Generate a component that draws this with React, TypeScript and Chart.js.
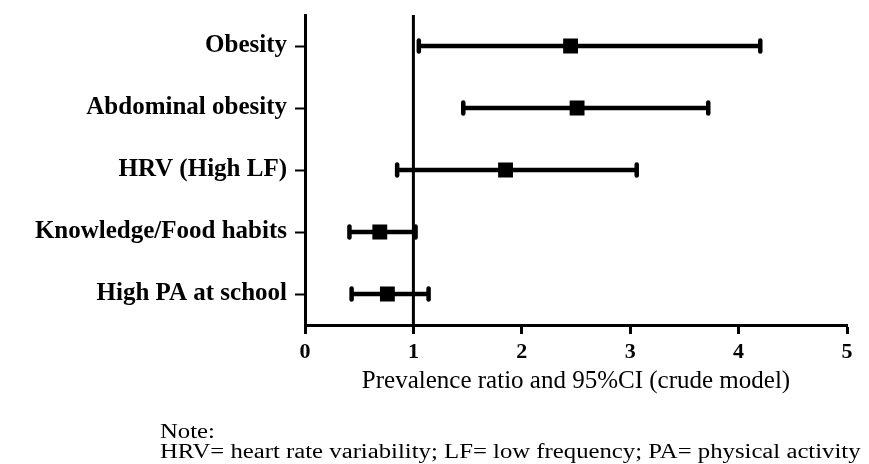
import React, { useEffect, useRef } from "react";
import { Chart, registerables } from "chart.js";

Chart.register(...registerables);

// ---- data ----
const categories = [
  "Obesity",
  "Abdominal obesity",
  "HRV (High LF)",
  "Knowledge/Food habits",
  "High PA at school",
];
const estimates = [2.45, 2.51, 1.85, 0.69, 0.76];
const lowerCI = [1.05, 1.46, 0.85, 0.41, 0.43];
const upperCI = [4.2, 3.72, 3.06, 1.02, 1.14];
const xMin = 0;
const xMax = 5;
const xStep = 1;
const referenceValue = 1;
const xAxisTitle = "Prevalence ratio and 95%CI (crude model)";
const noteLines = [
  "Note:",
  "HRV= heart rate variability; LF= low frequency; PA= physical activity",
];

const FONT = "'Liberation Serif', 'Times New Roman', serif";

const errorBarPlugin = {
  id: "errorBars",
  beforeDatasetsDraw(chart: any) {
    const { ctx, chartArea, scales } = chart;
    const x = scales.x;
    const y = scales.y;
    ctx.save();
    ctx.strokeStyle = "#000";
    // reference line
    const rx = x.getPixelForValue(referenceValue);
    ctx.lineWidth = 3;
    ctx.lineCap = "butt";
    ctx.beginPath();
    ctx.moveTo(rx, chartArea.top);
    ctx.lineTo(rx, chartArea.bottom);
    ctx.stroke();
    categories.forEach((_, i) => {
      const py = y.getPixelForValue(i);
      const x1 = x.getPixelForValue(lowerCI[i]);
      const x2 = x.getPixelForValue(upperCI[i]);
      ctx.lineWidth = 4.5;
      ctx.lineCap = "butt";
      ctx.beginPath();
      ctx.moveTo(x1, py);
      ctx.lineTo(x2, py);
      ctx.stroke();
      ctx.lineWidth = 4.5;
      ctx.lineCap = "round";
      [x1, x2].forEach((cx) => {
        ctx.beginPath();
        ctx.moveTo(cx, py - 5.5);
        ctx.lineTo(cx, py + 5.5);
        ctx.stroke();
      });
    });
    ctx.restore();
  },
};

export default function App() {
  const canvasRef = useRef<HTMLCanvasElement | null>(null);

  useEffect(() => {
    if (!canvasRef.current) return;
    const chart = new Chart(canvasRef.current, {
      type: "scatter",
      data: {
        datasets: [
          {
            data: categories.map((c, i) => ({ x: estimates[i], y: c })) as any,
            pointStyle: "rect",
            pointRadius: 10.5,
            pointHoverRadius: 10.5,
            backgroundColor: "#000",
            borderColor: "#000",
            borderWidth: 0,
            showLine: false,
          },
        ],
      },
      options: {
        animation: false,
        responsive: false,
        devicePixelRatio: 1,
        events: [],
        layout: { padding: { top: 15, right: 22, left: 0, bottom: 0 } },
        plugins: {
          legend: { display: false },
          tooltip: { enabled: false },
        },
        scales: {
          x: {
            type: "linear",
            min: xMin,
            max: xMax,
            ticks: {
              stepSize: xStep,
              color: "#000",
              padding: 5,
              font: { family: FONT, weight: "bold", size: 22 },
            },
            grid: {
              display: true,
              drawOnChartArea: false,
              drawTicks: true,
              tickLength: 9,
              tickWidth: 3,
              tickColor: "#000",
            },
            border: { display: true, color: "#000", width: 3 },
            title: {
              display: true,
              text: xAxisTitle,
              color: "#000",
              font: { family: FONT, size: 25 },
              padding: { top: 0, bottom: 68 },
            },
            afterFit(scale: any) {
              scale.height = 139;
            },
          },
          y: {
            type: "category",
            labels: categories,
            offset: true,
            ticks: {
              color: "#000",
              padding: 8,
              font: { family: FONT, weight: "bold", size: 25 },
            },
            grid: {
              display: true,
              drawOnChartArea: false,
              offset: false,
              drawTicks: true,
              tickLength: 10,
              tickWidth: 2,
              tickColor: "#000",
            },
            border: { display: true, color: "#000", width: 3 },
            afterFit(scale: any) {
              scale.width = 305;
              scale.paddingTop = 0;
              scale.paddingBottom = 0;
            },
          },
        },
      } as any,
      plugins: [errorBarPlugin],
    });
    return () => chart.destroy();
  }, []);

  return (
    <div
      style={{
        position: "fixed",
        left: 0,
        top: 0,
        width: 869,
        height: 464,
        background: "#fff",
        overflow: "hidden",
      }}
    >
      <canvas
        ref={canvasRef}
        width={869}
        height={464}
        style={{ width: 869, height: 464, display: "block" }}
      />
      <div
        style={{
          position: "absolute",
          left: 160,
          top: 421,
          fontFamily: FONT,
          fontSize: 20,
          lineHeight: "20px",
          color: "#000",
          whiteSpace: "nowrap",
          transform: "scaleX(1.237)",
          transformOrigin: "left top",
        }}
      >
        {noteLines.map((l, i) => (
          <div key={i}>{l}</div>
        ))}
      </div>
    </div>
  );
}
